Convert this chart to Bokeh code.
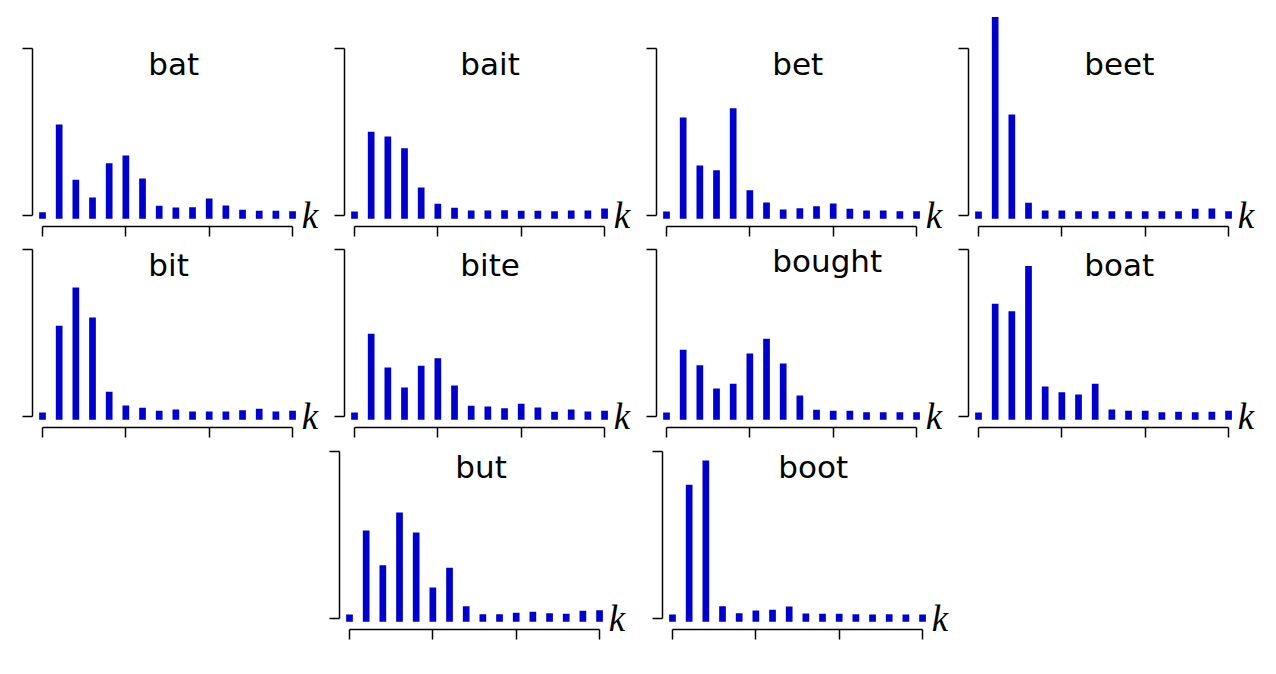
from bokeh.plotting import figure
from bokeh.models import ColumnDataSource, FixedTicker, Spacer
from bokeh.layouts import column, row
from bokeh.embed import file_html
from bokeh.resources import INLINE
from bokeh.core.properties import value

# ---- data -------------------------------------------------------------
k = list(range(16))
x_ticks = [0, 5, 10, 15]
y_ticks = [0, 1]

bat    = [0.000, 0.526, 0.194, 0.088, 0.294, 0.340, 0.202, 0.038, 0.028, 0.030, 0.082, 0.040, 0.014, 0.008, 0.008, 0.006]
bait   = [0.004, 0.482, 0.454, 0.384, 0.148, 0.050, 0.026, 0.010, 0.010, 0.012, 0.008, 0.008, 0.006, 0.010, 0.010, 0.022]
bet    = [0.004, 0.568, 0.280, 0.252, 0.624, 0.132, 0.058, 0.016, 0.024, 0.036, 0.052, 0.020, 0.010, 0.010, 0.006, 0.006]
beet   = [0.004, 1.170, 0.586, 0.056, 0.010, 0.010, 0.006, 0.006, 0.006, 0.006, 0.006, 0.006, 0.006, 0.020, 0.022, 0.006]
bit    = [0.004, 0.524, 0.754, 0.574, 0.128, 0.046, 0.032, 0.014, 0.022, 0.010, 0.010, 0.010, 0.018, 0.026, 0.010, 0.014]
bite   = [0.004, 0.476, 0.274, 0.154, 0.284, 0.330, 0.166, 0.044, 0.040, 0.030, 0.056, 0.034, 0.008, 0.022, 0.010, 0.014]
bought = [0.004, 0.380, 0.288, 0.148, 0.176, 0.358, 0.446, 0.298, 0.106, 0.020, 0.014, 0.014, 0.006, 0.006, 0.006, 0.006]
boat   = [0.004, 0.656, 0.612, 0.882, 0.160, 0.126, 0.112, 0.176, 0.022, 0.014, 0.014, 0.006, 0.008, 0.006, 0.008, 0.014]
but    = [0.004, 0.508, 0.300, 0.616, 0.496, 0.166, 0.284, 0.054, 0.006, 0.006, 0.014, 0.020, 0.012, 0.008, 0.026, 0.030]
boot   = [0.004, 0.782, 0.928, 0.054, 0.012, 0.028, 0.032, 0.052, 0.010, 0.008, 0.008, 0.006, 0.004, 0.006, 0.004, 0.004]

# ---- style ------------------------------------------------------------
BAR_COLOR = "#0000cd"
PX_X = 16.67     # pixels per k step
PX_Y = 166.7     # pixels per y unit
FIG_W = 312
BORDER_L = 16
BORDER_R = 4
BORDER_B = 4
ZERO_ABOVE_FRAME_BOTTOM = 22.0
X_START = -10.0 / PX_X
Y_START = -ZERO_ABOVE_FRAME_BOTTOM / PX_Y


def panel(word, vals, height):
    frame_w = FIG_W - BORDER_L - BORDER_R
    frame_h = height - BORDER_B
    p = figure(width=FIG_W, height=height,
               x_range=(X_START, X_START + frame_w / PX_X),
               y_range=(Y_START, Y_START + frame_h / PX_Y),
               output_backend="svg", toolbar_location=None,
               min_border_left=BORDER_L, min_border_right=BORDER_R,
               min_border_top=0, min_border_bottom=BORDER_B)
    p.outline_line_color = None
    p.grid.visible = False
    p.background_fill_color = "white"
    p.border_fill_color = "white"

    for ax, ticks in ((p.xaxis[0], x_ticks), (p.yaxis[0], y_ticks)):
        ax.ticker = FixedTicker(ticks=ticks)
        ax.bounds = (ticks[0], ticks[-1])
        ax.major_label_overrides = {t: "" for t in ticks}
        ax.major_label_text_font_size = "1px"
        ax.major_label_standoff = 0
        ax.axis_line_color = "black"
        ax.axis_line_width = 1.5
        ax.major_tick_line_color = "black"
        ax.major_tick_line_width = 1.5
        ax.major_tick_in = 0
        ax.major_tick_out = 10
        ax.minor_tick_line_color = None
    # offset bottom spine: sits a little below the bars' baseline,
    # its ticks point downwards (outwards) by 10 px
    xa = p.xaxis[0]
    xa.fixed_location = -11.0 / PX_Y
    xa.major_tick_out = 0
    xa.major_tick_in = -10

    src = ColumnDataSource(dict(k=k, v=vals, z=[0] * len(k)))
    p.segment(x0="k", y0="z", x1="k", y1="v", source=src,
              line_color=BAR_COLOR, line_width=6.7, line_cap="square")

    has_desc = any(c in "gjpqy" for c in word)
    ty = 1 - 15.0 / PX_Y + (4.3 / PX_Y if has_desc else 0)
    p.text(x=[6.35], y=[ty], text=[word],
           text_font=value("DejaVu Sans"), text_font_size="31px",
           text_color="black", text_align="left", text_baseline="alphabetic")

    p.text(x=[15.55], y=[0.0], text=["k"],
           text_font=value("Liberation Serif"), text_font_style="italic",
           text_font_size="37px", text_color="black",
           text_align="left", text_baseline="alphabetic")
    return p


H1, H2, H3 = 241, 201, 202
r1 = row(Spacer(width=16, height=H1),
         panel("bat", bat, H1), panel("bait", bait, H1),
         panel("bet", bet, H1), panel("beet", beet, H1))
r2 = row(Spacer(width=16, height=H2),
         panel("bit", bit, H2), panel("bite", bite, H2),
         panel("bought", bought, H2), panel("boat", boat, H2))
r3 = row(Spacer(width=323, height=H3), panel("but", but, H3),
         Spacer(width=11, height=H3), panel("boot", boot, H3))
layout = column(r1, r2, r3)

open("out.html", "w").write(file_html(layout, INLINE))
